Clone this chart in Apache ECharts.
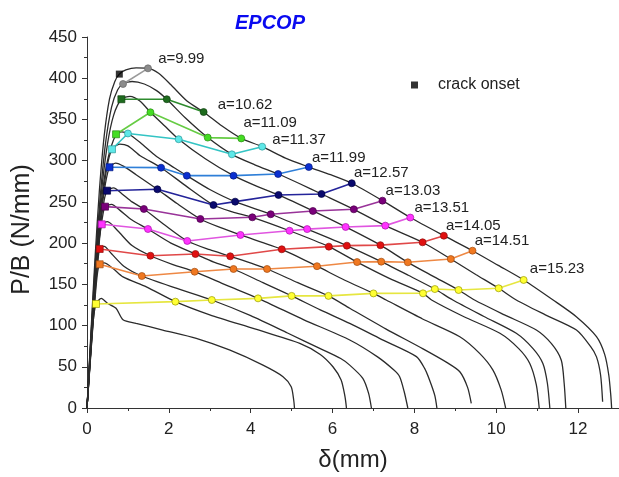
<!DOCTYPE html>
<html><head><meta charset="utf-8">
<script src="https://cdn.jsdelivr.net/npm/echarts@6/dist/echarts.min.js"></script>
<style>html,body{margin:0;padding:0;background:#fff}#c{width:619px;height:477px}</style>
</head><body><div id="c"></div>
<script>
// ---- black load-displacement curves (delta mm, P/B N/mm) ----
const curve01 = [[0,0],[0.1,95],[0.2,185],[0.3,262],[0.42,330],[0.55,375],[0.68,396],[0.79,405],[0.95,410],[1.2,412.5],[1.49,412],[1.75,406],[2.05,392],[2.45,372],[2.85,359],[3.3,342],[3.77,327],[4.28,317],[4.85,303],[5.42,292.3],[5.95,283],[6.47,272.6],[7.22,251.5],[7.9,231],[8.72,209],[9.42,190.8],[10.05,173],[10.67,155.3],[11.39,131],[11.95,111],[12.45,86.5],[12.65,65],[12.75,40],[12.8,15],[12.82,0]];
const curve02 = [[0,0],[0.1,90],[0.2,175],[0.32,255],[0.45,320],[0.6,365],[0.75,386],[0.88,393],[1.1,396],[1.4,393],[1.7,385],[1.95,374.5],[2.4,352],[2.95,328],[3.54,307.7],[4.1,295],[4.67,283.8],[5.2,272],[5.73,259.6],[6.52,241],[7.29,221.2],[8.2,201],[8.89,180.7],[9.5,162],[10.06,145.2],[10.49,131],[11.2,113],[11.96,94.6],[12.3,75],[12.45,62],[12.55,40],[12.6,7.6]];
const curve03 = [[0,0],[0.1,88],[0.22,180],[0.35,260],[0.5,320],[0.65,355],[0.84,374.5],[1.05,378],[1.3,372],[1.55,358.7],[1.9,342],[2.24,326],[2.9,302],[3.58,281.8],[4.1,270],[4.68,258.4],[5.52,239],[6.32,219.6],[7.17,197.5],[7.84,176.7],[8.45,160],[9.08,143.1],[9.47,131],[10.2,113],[10.98,94.6],[11.35,78],[11.59,58],[11.66,30],[11.7,0]];
const curve04 = [[0,0],[0.1,85],[0.22,175],[0.35,250],[0.5,300],[0.71,332],[0.85,335],[1.0,333],[1.3,322],[1.7,305],[2.05,294],[2.44,281.8],[3.0,265],[3.62,250.3],[4.49,235],[5.38,217],[6.35,196.9],[7.19,177.5],[7.85,161],[8.5,144.3],[8.94,131],[9.7,111],[10.49,90.6],[10.9,72],[11.14,54],[11.25,30],[11.31,0]];
const curve05 = [[0,0],[0.1,82],[0.22,170],[0.35,240],[0.48,290],[0.61,313.8],[0.8,320],[1.0,318],[1.3,306],[1.81,291.5],[2.4,270],[3.09,246.2],[3.55,238],[4.04,231.3],[4.95,215],[5.91,195.7],[6.6,177],[7.4,157],[8.21,139.1],[8.42,131],[9.2,111],[10.09,90.6],[10.55,72],[10.82,54],[10.98,28],[11.05,0]];
const curve06 = [[0,0],[0.1,80],[0.22,165],[0.35,235],[0.45,272],[0.55,292],[0.7,297],[0.9,293],[1.2,283],[1.72,265.3],[2.2,248],[2.77,229.3],[3.25,219],[3.75,209.9],[4.76,192.5],[5.62,172],[6.3,155],[7.0,139],[7.31,131],[8.2,108],[9.11,86.5],[9.6,66],[9.92,46],[10.12,22],[10.23,0]];
const curve07 = [[0,0],[0.1,78],[0.22,160],[0.33,222],[0.42,252],[0.49,263.6],[0.65,267],[0.85,260],[1.1,250],[1.39,241.4],[1.9,222],[2.45,202.6],[3.0,192],[3.5,184],[4.4,168.6],[5.15,152],[5.9,136],[6.42,121],[7.3,96],[8.2,72],[8.8,55],[9.11,44],[9.3,25],[9.39,5.7]];
const curve08 = [[0,0],[0.1,76],[0.2,150],[0.3,205],[0.38,232],[0.44,244.2],[0.6,247],[0.8,240],[1.1,228],[1.49,217.1],[2.05,200],[2.65,186.8],[3.1,177],[3.58,168.6],[4.3,152],[5.0,136],[5.7,119],[6.42,102.6],[7.25,82],[8.05,62.3],[8.25,48],[8.37,34],[8.5,15],[8.55,0]];
const curve09 = [[0,0],[0.1,74],[0.2,145],[0.28,190],[0.36,222.8],[0.5,226],[0.75,215],[1.1,197],[1.55,184.7],[2.1,174],[2.63,165.3],[3.4,149],[4.18,133],[5.3,107],[6.42,82.5],[7.1,62],[7.5,46],[7.64,37.9],[7.75,20],[7.84,0]];
const curve10 = [[0,0],[0.1,72],[0.2,140],[0.26,175],[0.31,192.9],[0.42,196],[0.6,187],[0.9,172],[1.34,160.1],[2.2,145],[3.05,131],[4.0,112],[4.9,91],[5.7,72],[6.2,60],[6.42,52],[6.74,36],[6.88,18],[6.95,0]];
const curve11 = [[0,0],[0.1,70],[0.2,135],[0.26,165],[0.31,174.3],[0.42,176],[0.63,169.5],[0.88,159],[1.45,147],[2.16,129],[3.0,113],[4.1,96],[5.2,78.5],[5.7,65],[6.01,50],[6.21,34],[6.3,15],[6.34,0]];
const curve12 = [[0,0],[0.08,60],[0.15,105],[0.22,126.2],[0.35,133],[0.5,127],[0.71,121],[0.88,107],[1.2,102.7],[1.85,94.6],[2.67,84.5],[3.48,70.4],[4.3,52],[4.79,38],[4.99,25.8],[5.05,10],[5.07,0]];

// ---- crack-length lines (first point = crack onset square) ----
const crackOnset = [[0.79,405]];
const a0999 = [[0.88,393],[1.49,412]];
const a1062 = [[0.84,374.5],[1.95,374.5],[2.85,359]];
const a1109 = [[0.71,332],[1.55,358.7],[2.95,328],[3.77,327]];
const a1137 = [[0.61,313.8],[1.0,333],[2.24,326],[3.54,307.7],[4.28,317]];
const a1199 = [[0.55,292],[1.81,291.5],[2.44,281.8],[3.58,281.8],[4.67,283.8],[5.42,292.3]];
const a1257 = [[0.49,263.6],[1.72,265.3],[3.09,246.2],[3.62,250.3],[4.68,258.4],[5.73,259.6],[6.47,272.6]];
const a1303 = [[0.44,244.2],[1.39,241.4],[2.77,229.3],[4.04,231.3],[4.49,235],[5.52,239],[6.52,241],[7.22,251.5]];
const a1351 = [[0.36,222.8],[1.49,217.1],[2.45,202.6],[3.75,209.9],[4.95,215],[5.38,217],[6.32,219.6],[7.29,221.2],[7.9,231]];
const a1405 = [[0.31,192.9],[1.55,184.7],[2.65,186.8],[3.5,184],[4.76,192.5],[5.91,195.7],[6.35,196.9],[7.17,197.5],[8.2,201],[8.72,209]];
const a1451 = [[0.31,174.3],[1.34,160.1],[2.63,165.3],[3.58,168.6],[4.4,168.6],[5.62,172],[6.6,177],[7.19,177.5],[7.84,176.7],[8.89,180.7],[9.42,190.8]];
const a1523 = [[0.22,126.2],[2.16,129],[3.05,131],[4.18,133],[5.0,136],[5.9,136],[7.0,139],[8.21,139.1],[8.5,144.3],[9.08,143.1],[10.06,145.2],[10.67,155.3]];

const curves = [curve01,curve02,curve03,curve04,curve05,curve06,curve07,curve08,curve09,curve10,curve11,curve12];
const crackLines = [a0999,a1062,a1109,a1137,a1199,a1257,a1303,a1351,a1405,a1451,a1523];
const crackLabels = ['a=9.99','a=10.62','a=11.09','a=11.37','a=11.99','a=12.57','a=13.03','a=13.51','a=14.05','a=14.51','a=15.23'];
const lineColors   = ['#9a9a9a','#2e8b2e','#66cc44','#33c4c4','#2f7fd8','#24249a','#993399','#e055e0','#e04848','#ee8844','#e6e640'];
const markerColors = ['#8c8c8c','#1e6b1e','#44dd22','#5ee8e8','#0a2fd0','#0a0a6e','#7a007a','#ff33ff','#e01010','#f07820','#ffff33'];
const borderColors = ['#666666','#0f400f','#2a8a16','#2a9a9a','#051a80','#000040','#4a004a','#aa10aa','#901010','#a04a10','#999900'];
const labelOffsets = [[14,-13],[18,-11],[6,-19],[14,-10],[7,-13],[6,-14],[7,-13],[8,-13],[6,-13],[6,-13],[10,-15]];

const FONT = '"Liberation Sans", Arial, sans-serif';
const series = [];
curves.forEach((c,i)=>{
  series.push({type:'line', name:'curve'+(i+1), data:c, showSymbol:false, smooth:0.25,
    lineStyle:{color:'#2b2b2b', width:1.3}, z:2, silent:true});
});
crackLines.forEach((pts,i)=>{
  const data = pts.map((p,j)=>{
    const item = {value:p};
    if (j===0 && i>0) item.symbol = 'rect';
    if (j===pts.length-1) item.label = {show:true, formatter:crackLabels[i], position:labelOffsets[i],
      fontSize:15, fontFamily:FONT, color:'#222', align:'left'};
    return item;
  });
  series.push({type:'line', name:crackLabels[i], data:data, symbol:'circle', symbolSize:7, showSymbol:true,
    lineStyle:{color:lineColors[i], width:1.6},
    itemStyle:{color:markerColors[i], borderColor:borderColors[i], borderWidth:0.7}, z:5, silent:true});
});
series.push({type:'scatter', name:'crack onset', data:crackOnset, symbol:'rect', symbolSize:7,
  itemStyle:{color:'#000'}, z:6});

const chart = echarts.init(document.getElementById('c'), null, {renderer:'canvas'});
chart.setOption({
  animation:false,
  backgroundColor:'#fff',
  title:{text:'EPCOP', left:230, top:8, textStyle:{fontSize:20, fontWeight:'bold', fontStyle:'italic', color:'#0a0af0', fontFamily:FONT}},
  legend:{data:[{name:'crack onset', icon:'rect'}], left:406, top:72, itemWidth:7, itemHeight:7,
    textStyle:{fontSize:16, fontFamily:FONT, color:'#222', padding:[0,0,0,15]}},
  grid:{left:87, right:0, top:37, bottom:69, containLabel:false},
  xAxis:{type:'value', min:0, max:13, interval:2,
    name:'δ(mm)', nameLocation:'middle', nameGap:40, nameTextStyle:{fontSize:24, fontFamily:FONT, color:'#222'},
    axisLine:{lineStyle:{color:'#333', width:1}}, axisTick:{inside:false, length:5, lineStyle:{color:'#333'}},
    minorTick:{show:true, splitNumber:2, length:3, lineStyle:{color:'#333'}},
    splitLine:{show:false}, axisLabel:{fontSize:17, fontFamily:FONT, color:'#222', margin:13, showMaxLabel:false}},
  yAxis:{type:'value', min:0, max:450, interval:50,
    name:'P/B (N/mm)', nameLocation:'middle', nameGap:52, nameRotate:90, nameTextStyle:{fontSize:25, fontFamily:FONT, color:'#222', padding:[0,14,0,0]},
    axisLine:{show:true, lineStyle:{color:'#333', width:1}}, axisTick:{show:true, inside:false, length:5, lineStyle:{color:'#333'}},
    minorTick:{show:true, splitNumber:2, length:3, lineStyle:{color:'#333'}},
    splitLine:{show:false}, axisLabel:{fontSize:17, fontFamily:FONT, color:'#222', margin:10}},
  series:series
});
</script></body></html>
